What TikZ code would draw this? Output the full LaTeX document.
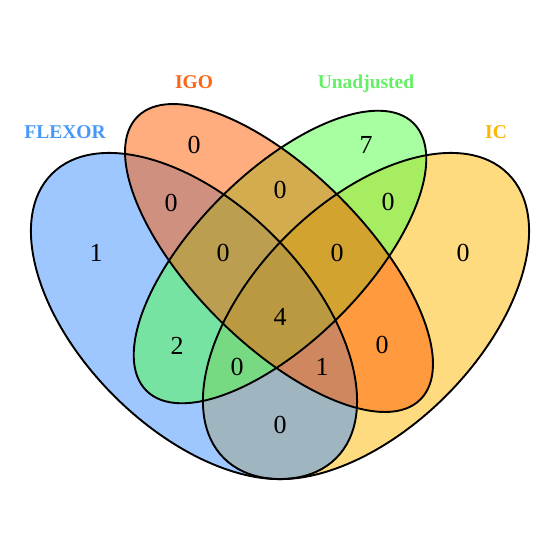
\documentclass[tikz,border=0pt]{standalone}
\usepackage{fontspec}
\setmainfont{Liberation Serif}
\definecolor{cflexor}{RGB}{64,145,255}
\definecolor{cigo}{RGB}{255,90,0}
\definecolor{cunadj}{RGB}{80,255,70}
\definecolor{cic}{RGB}{255,185,0}
\definecolor{lflexor}{RGB}{72,152,250}
\definecolor{ligo}{RGB}{255,100,20}
\definecolor{lunadj}{RGB}{100,240,100}
\definecolor{lic}{RGB}{255,180,0}
\tikzset{
  setfill/.style={fill=#1, fill opacity=0.5, draw=none},
  setline/.style={draw=black, line width=1.9pt, fill=none},
  cnt/.style={font=\fontsize{26}{26}\selectfont, inner sep=0pt},
  catlabel/.style={font=\fontsize{19.5}{20}\selectfont\bfseries, text=#1, inner sep=0pt, anchor=base}
}
\begin{document}
\begin{tikzpicture}[x=1pt, y=-1pt]
\useasboundingbox (0,0) rectangle (560,560);
\fill[white] (0,0) rectangle (560,560);
% fills, in drawing order IC, FLEXOR, Unadjusted, IGO
\path[setfill=cic, rotate around={45:(366,316)}] (366,316) ellipse [x radius=201pt, y radius=113pt];
\path[setfill=cflexor, rotate around={-45:(194,316)}] (194,316) ellipse [x radius=201pt, y radius=113pt];
\path[setfill=cunadj, rotate around={45:(280,257)}] (280,257) ellipse [x radius=189pt, y radius=84pt];
\path[setfill=cigo, rotate around={-45:(279,258)}] (279,258) ellipse [x radius=200pt, y radius=86pt];
% outlines
\path[setline, rotate around={45:(366,316)}] (366,316) ellipse [x radius=201pt, y radius=113pt];
\path[setline, rotate around={-45:(194,316)}] (194,316) ellipse [x radius=201pt, y radius=113pt];
\path[setline, rotate around={45:(280,257)}] (280,257) ellipse [x radius=189pt, y radius=84pt];
\path[setline, rotate around={-45:(279,258)}] (279,258) ellipse [x radius=200pt, y radius=86pt];
% category labels
\node[catlabel=lflexor] (lblF) at (65,138) {FLEXOR};
\node[catlabel=ligo] (lblI) at (194,88) {IGO};
\node[catlabel=lunadj] (lblU) at (366,88) {Unadjusted};
\node[catlabel=lic] (lblC) at (496,138) {IC};
% counts
\node[cnt] (nF) at (96,253) {1};
\node[cnt] (nI) at (194,145) {0};
\node[cnt] (nU) at (366,145) {7};
\node[cnt] (nC) at (463,253) {0};
\node[cnt] (nFI) at (171,203) {0};
\node[cnt] (nIU) at (280,190) {0};
\node[cnt] (nUC) at (388,202) {0};
\node[cnt] (nFIU) at (223,253) {0};
\node[cnt] (nIUC) at (337,253) {0};
\node[cnt] (nAll) at (280,317) {4};
\node[cnt] (nFU) at (177,346) {2};
\node[cnt] (nIC) at (382,345) {0};
\node[cnt] (nFUC) at (237,367) {0};
\node[cnt] (nFIC) at (322,367) {1};
\node[cnt] (nFC) at (280,425) {0};
\end{tikzpicture}
\end{document}
